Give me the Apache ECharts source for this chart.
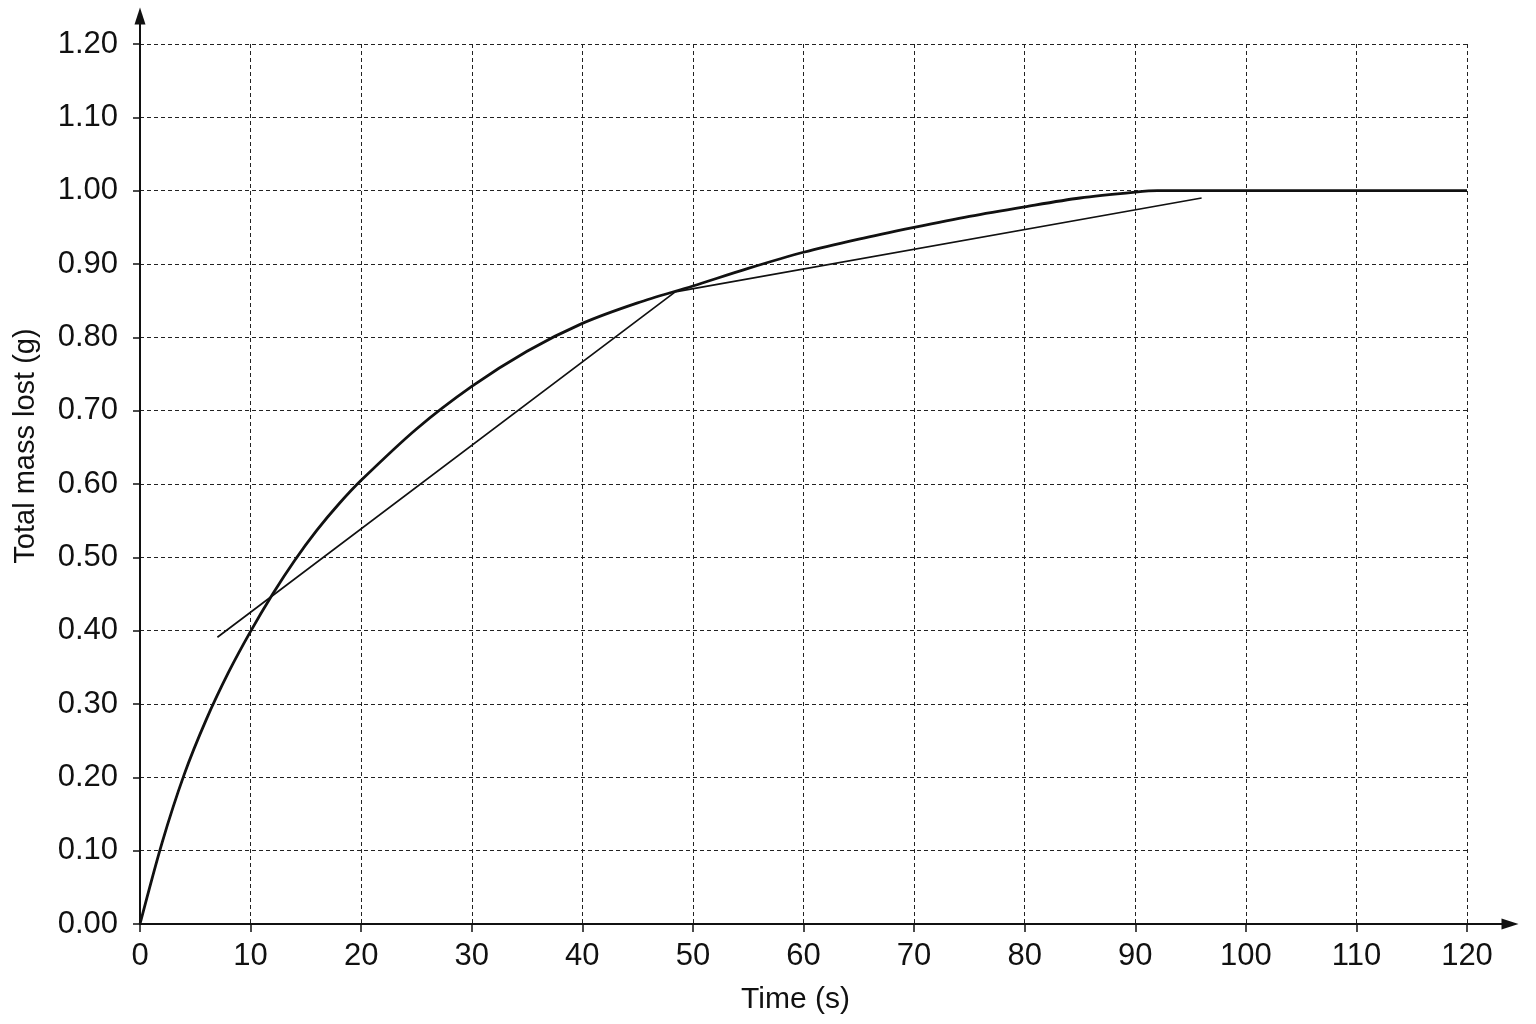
<!DOCTYPE html>
<html>
<head>
<meta charset="utf-8">
<script src="https://cdn.jsdelivr.net/npm/echarts@6/dist/echarts.min.js"></script>
<style>
html,body{margin:0;padding:0;background:#fff;}
#c{width:1536px;height:1024px;}
</style>
</head>
<body>
<div id="c"></div>
<script>
// Main curve: total mass lost vs time
var curveTime = [0, 2, 4, 6, 8, 10, 12, 14, 16, 18, 20, 25, 30, 35, 40, 45, 50, 55, 60, 65, 70, 75, 80, 85, 90, 92, 100, 110, 120];
var curveMass = [0, 0.111, 0.204, 0.279, 0.343, 0.399, 0.450, 0.496, 0.537, 0.573, 0.605, 0.675, 0.733, 0.781, 0.819, 0.847, 0.870, 0.894, 0.916, 0.934, 0.950, 0.965, 0.978, 0.990, 0.998, 1.0, 1.0, 1.0, 1.0];
// Drawn tangent lines (polyline)
var tangentTime = [7, 48.4, 96];
var tangentMass = [0.391, 0.862, 0.990];
// Axis ticks
var xMin = 0, xMax = 120, xStep = 10;
var yMin = 0, yMax = 1.2, yStep = 0.1;

var FONT = "'Liberation Sans', Arial, Helvetica, sans-serif";
var INK = '#111';

function pairs(xs, ys){ return xs.map(function(x,i){ return [x, ys[i]]; }); }

var chart = echarts.init(document.getElementById('c'));
chart.setOption({
  backgroundColor: '#fff',
  animation: false,
  grid: [
    {left: 140, right: 69, top: 44, bottom: 100},
    {left: 140, right: 26, top: 16, bottom: 100}
  ],
  xAxis: [
    {
      type: 'value', gridIndex: 0, min: xMin, max: xMax, interval: xStep,
      name: 'Time (s)', nameLocation: 'middle', nameGap: 61,
      nameTextStyle: {fontFamily: FONT, fontSize: 30, color: INK, padding: [0, 16, 0, 0]},
      axisLine: {show: false},
      axisTick: {show: true, length: 8, lineStyle: {color: INK, width: 1.5}},
      axisLabel: {fontFamily: FONT, fontSize: 31, color: INK, margin: 17},
      splitLine: {show: true, lineStyle: {color: '#222', width: 1, type: [4, 3]}}
    },
    {
      type: 'value', gridIndex: 1, min: 0, max: 1,
      axisLine: {show: true, symbol: ['none', 'triangle'], symbolSize: [11, 17], lineStyle: {color: INK, width: 2}},
      axisTick: {show: false}, axisLabel: {show: false}, splitLine: {show: false}
    }
  ],
  yAxis: [
    {
      type: 'value', gridIndex: 0, min: yMin, max: yMax, interval: yStep,
      name: 'Total mass lost (g)', nameLocation: 'middle', nameGap: 100, nameRotate: 90,
      nameTextStyle: {fontFamily: FONT, fontSize: 29, color: INK, padding: [0, 0, 0, 76]},
      axisLine: {show: false},
      axisTick: {show: true, length: 7, lineStyle: {color: INK, width: 1.5}},
      axisLabel: {fontFamily: FONT, fontSize: 31, color: INK, margin: 22,
        formatter: function(v){ return v.toFixed(2); }},
      splitLine: {show: true, lineStyle: {color: '#222', width: 1, type: [4, 3]}}
    },
    {
      type: 'value', gridIndex: 1, min: 0, max: 1,
      axisLine: {show: true, symbol: ['none', 'triangle'], symbolSize: [11, 17], lineStyle: {color: INK, width: 2}},
      axisTick: {show: false}, axisLabel: {show: false}, splitLine: {show: false}
    }
  ],
  series: [
    {
      type: 'line', xAxisIndex: 0, yAxisIndex: 0,
      data: pairs(curveTime, curveMass),
      smooth: 0.3, showSymbol: false, symbol: 'none',
      lineStyle: {color: INK, width: 2.8}, z: 5
    },
    {
      type: 'line', xAxisIndex: 0, yAxisIndex: 0,
      data: pairs(tangentTime, tangentMass),
      showSymbol: false, symbol: 'none',
      lineStyle: {color: INK, width: 1.7}, z: 4
    }
  ]
});
</script>
</body>
</html>
